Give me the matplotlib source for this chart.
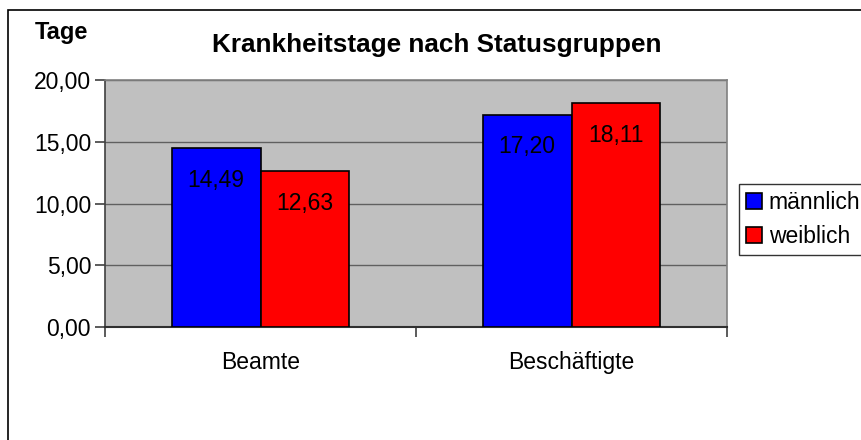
import matplotlib
matplotlib.use("Agg")
import matplotlib.pyplot as plt
from matplotlib.patches import Rectangle

categories = ["Beamte", "Beschäftigte"]
series_names = ["männlich", "weiblich"]
maennlich = [14.49, 17.20]
weiblich = [12.63, 18.11]
colors = ["#0000FF", "#FF0000"]
yticks = [0, 5, 10, 15, 20]

W, H = 861, 440
fig = plt.figure(figsize=(W / 100, H / 100), dpi=100)
plt.rcParams['font.family'] = ['Liberation Sans', 'DejaVu Sans']

# outer chart frame (extends past right/bottom edge)
fig.patches.append(Rectangle((8 / W, -0.1), 1.2, (H - 10) / H + 0.1,
                             transform=fig.transFigure, fill=False,
                             edgecolor="black", linewidth=1.2))

ax = fig.add_axes([105 / W, (H - 327) / H, 622 / W, 247 / H])
ax.set_facecolor("#C0C0C0")
ax.set_ylim(0, 20)
ax.set_xlim(-0.5, 1.5)

bw = 0.286
x = list(range(len(categories)))
for i, (vals, c) in enumerate(zip([maennlich, weiblich], colors)):
    off = (i - 0.5) * bw
    bars = ax.bar([xi + off for xi in x], vals, width=bw, color=c,
                  edgecolor="black", linewidth=1.2, label=series_names[i], zorder=3)
    for b, v in zip(bars, vals):
        ax.annotate(f"{v:.2f}".replace(".", ","),
                    (b.get_x() + b.get_width() / 2, v),
                    xytext=(0, -32), textcoords="offset pixels",
                    ha="center", va="center", fontsize=16.5, zorder=4)

ax.set_yticks(yticks)
ax.set_yticklabels([f"{v:.2f}".replace(".", ",") for v in yticks], fontsize=16.5)
ax.yaxis.grid(True, color="#606060", linewidth=1.0, zorder=1)
ax.set_xticks(x)
ax.set_xticklabels(categories, fontsize=16.5)
ax.set_xticks([-0.5, 0.5, 1.5], minor=True)
ax.tick_params(axis="x", which="major", length=0, pad=17)
ax.tick_params(axis="x", which="minor", length=7, width=1.2, color="#404040")
ax.tick_params(axis="y", length=7, width=1.2, pad=3, color="#404040")
for s in ["top", "right"]:
    ax.spines[s].set_color("#808080")
    ax.spines[s].set_linewidth(1.2)
ax.spines["left"].set_color("#404040")
ax.spines["left"].set_linewidth(1.2)
ax.spines["bottom"].set_color("#303030")
ax.spines["bottom"].set_linewidth(1.5)

fig.text(437 / W, 1 - 45 / H, "Krankheitstage nach Statusgruppen",
         ha="center", va="center", fontsize=18.8, fontweight="bold")
fig.text(61 / W, 1 - 32 / H, "Tage", ha="center", va="center",
         fontsize=17, fontweight="bold")

leg = fig.legend(loc="upper left", bbox_to_anchor=(739 / W, 1 - 184 / H),
                 fontsize=16.5, frameon=True, fancybox=False, edgecolor="black",
                 handlelength=0.7, handleheight=0.7, handletextpad=0.3,
                 borderpad=0.3, labelspacing=0.5, borderaxespad=0)
leg.get_frame().set_linewidth(1.0)

fig.savefig("out.png", dpi=100, facecolor="white")
